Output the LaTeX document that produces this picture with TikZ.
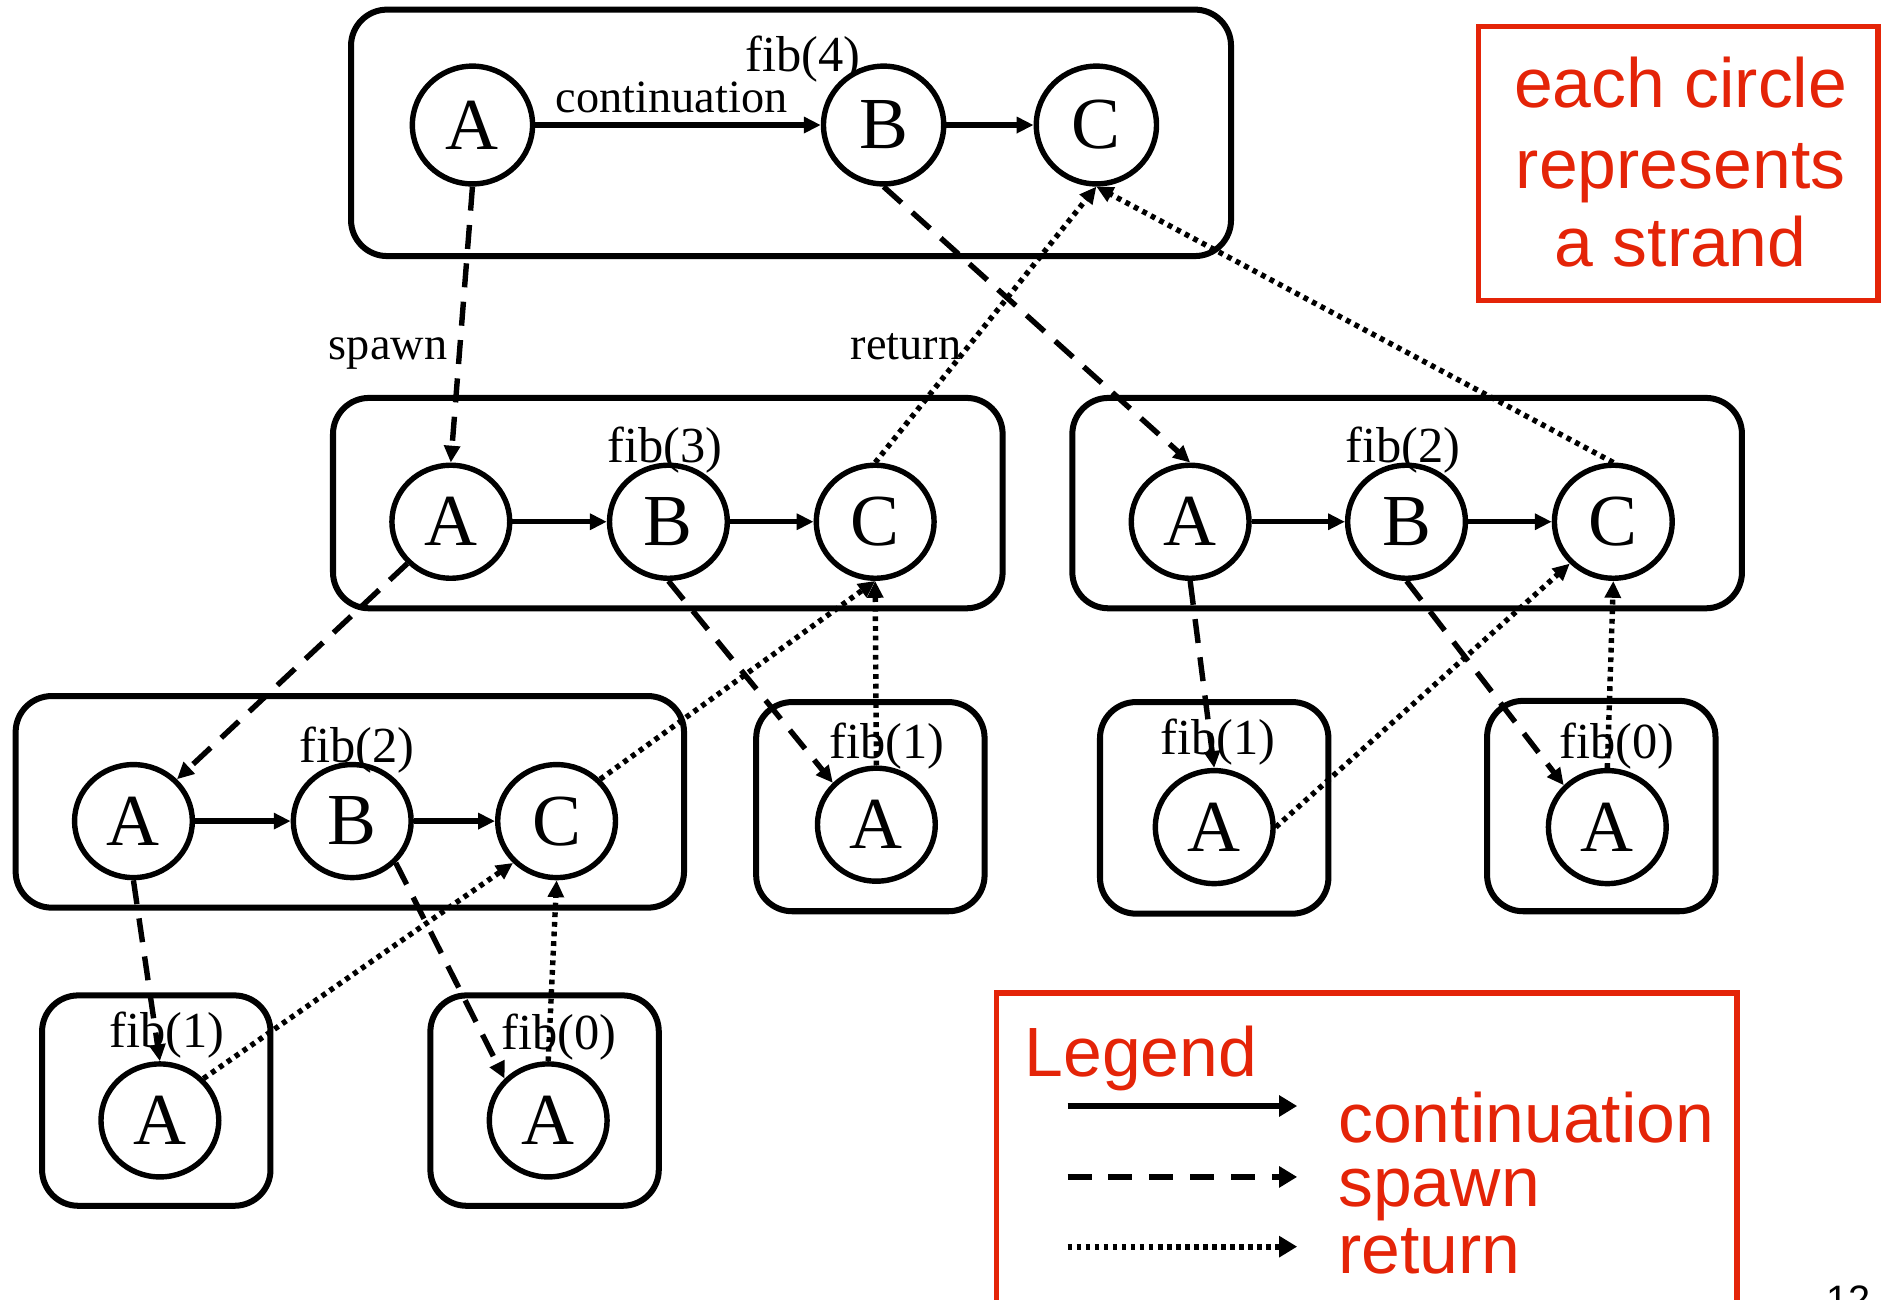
\documentclass[tikz,border=0pt]{standalone}
\usepackage{fontspec}
\setmainfont{Liberation Serif}
\newfontfamily\slidesans{Liberation Sans}
\usetikzlibrary{arrows.meta,shapes.geometric}
\definecolor{slidered}{RGB}{228,36,8}

\begin{document}
\begin{tikzpicture}[x=1pt,y=-1pt,
  strand/.style={ellipse,draw,line width=4.5pt,minimum width=98pt,minimum height=94pt,
    inner sep=0pt,font=\fontsize{61}{61}\selectfont},
  bigstrand/.style={strand,minimum width=100pt,minimum height=98pt},
  framebox/.style={draw,line width=5pt,rounded corners=30pt,inner sep=0pt},
  fiblabel/.style={anchor=base,inner sep=0pt,font=\fontsize{42}{42}\selectfont},
  edgelabel/.style={anchor=base,inner sep=0pt,font=\fontsize{38.5}{38.5}\selectfont},
  tip/.style={-{Triangle[length=14pt,width=13pt]}},
  cont/.style={tip,line width=4.5pt},
  spawnarr/.style={tip,line width=4.5pt,dash pattern=on 20pt off 12pt},
  retarr/.style={tip,line width=4.5pt,dash pattern=on 4pt off 4pt},
  bigtip/.style={-{Triangle[length=15pt,width=17pt]},line width=5pt},
  redtext/.style={text=slidered,inner sep=0pt,font=\slidesans\fontsize{58}{58}\selectfont}]

\clip (0,0) rectangle (1568,1081);
\useasboundingbox (0,0) rectangle (1568,1081);

% procedure frames
\node[framebox,minimum width=732pt,minimum height=205pt] (box4)  at (658,110.5) {};
\node[framebox,minimum width=557pt,minimum height=175pt] (box3)  at (555.5,418.5) {};
\node[framebox,minimum width=557pt,minimum height=175pt] (box2r) at (1170.5,418.5) {};
\node[framebox,minimum width=556pt,minimum height=176pt] (box2l) at (291,667) {};
\node[framebox,minimum width=190pt,minimum height=174pt] (box1m) at (724,671) {};
\node[framebox,minimum width=190pt,minimum height=176pt] (box1r) at (1010,672) {};
\node[framebox,minimum width=190pt,minimum height=175pt] (box0r) at (1332,670.5) {};
\node[framebox,minimum width=190pt,minimum height=175pt] (box1b) at (130,915.5) {};
\node[framebox,minimum width=190pt,minimum height=175pt] (box0b) at (453,915.5) {};

% frame titles
\node[fiblabel] (t4)  at (668,59.6) {fib(4)};
\node[fiblabel] (t3)  at (553,384.5) {fib(3)};
\node[fiblabel] (t2r) at (1167,384.5) {fib(2)};
\node[fiblabel] (t2l) at (297,634.5) {fib(2)};
\node[fiblabel] (t1m) at (738,631) {fib(1)};
\node[fiblabel] (t1r) at (1013,628) {fib(1)};
\node[fiblabel] (t0r) at (1345,631) {fib(0)};
\node[fiblabel] (t1b) at (139,871) {fib(1)};
\node[fiblabel] (t0b) at (465,873) {fib(0)};

% strands
\node[bigstrand] (A4) at (393,104) {A};
\node[bigstrand] (B4) at (735,104) {B};
\node[bigstrand] (C4) at (912,104) {C};

\node[strand] (A3) at (375,434) {A};
\node[strand] (B3) at (556,434) {B};
\node[strand] (C3) at (728,434) {C};

\node[strand] (A2r) at (990,434) {A};
\node[strand] (B2r) at (1170,434) {B};
\node[strand] (C2r) at (1342,434) {C};

\node[strand] (A2l) at (111,683) {A};
\node[strand] (B2l) at (293,683) {B};
\node[strand] (C2l) at (463,683) {C};

\node[strand] (A1m) at (729,686) {A};
\node[strand] (A1r) at (1010,688) {A};
\node[strand] (A0r) at (1337,688) {A};

\node[strand] (A1b) at (133,932) {A};
\node[strand] (A0b) at (456,932) {A};

% continuation edges
\draw[cont] (A4) -- (B4);
\draw[cont] (B4) -- (C4);
\draw[cont] (A3) -- (B3);
\draw[cont] (B3) -- (C3);
\draw[cont] (A2r) -- (B2r);
\draw[cont] (B2r) -- (C2r);
\draw[cont] (A2l) -- (B2l);
\draw[cont] (B2l) -- (C2l);

% spawn edges
\draw[spawnarr] (A4.south) -- (A3.north);
\draw[spawnarr] (B4.south) -- (A2r.north);
\draw[spawnarr] (A3.south west) -- (A2l.north east);
\draw[spawnarr] (B3.south) -- (A1m.north west);
\draw[spawnarr] (A2r.south) -- (A1r.north);
\draw[spawnarr] (B2r.south) -- (A0r.north west);
\draw[spawnarr] (A2l.south) -- (A1b.north);
\draw[spawnarr] (B2l.south east) -- (A0b.north west);

% return edges
\draw[retarr] (C3.north) -- (C4.south);
\draw[retarr] (C2r.north) -- (C4.south);
\draw[retarr] (C2l.north east) -- (C3.south);
\draw[retarr] (A1m.north) -- (C3.south);
\draw[retarr] (A1b.north east) -- (C2l.south west);
\draw[retarr] (A0b.north) -- (C2l.south);
\draw[retarr] (A1r.east) -- (C2r.south west);
\draw[retarr] (A0r.north) -- (C2r.south);

% edge kind labels
\node[edgelabel] (lcont)  at (558.7,93.4) {continuation};
\node[edgelabel] (lspawn) at (322.8,298.9) {spawn};
\node[edgelabel] (lret)   at (753.8,298.9) {return};

% note
\node[draw=slidered,line width=4.5pt,minimum width=332pt,minimum height=228pt,inner sep=0pt] (notebox) at (1396,136) {};
\node[redtext,anchor=base] (note1) at (1398,89.3) {each circle};
\node[redtext,anchor=base] (note2) at (1398,157) {represents};
\node[redtext,anchor=base] (note3) at (1398,222) {a strand};

% legend
\node[draw=slidered,line width=4.5pt,minimum width=616pt,minimum height=290pt,inner sep=0pt] (legendbox) at (1137,971) {};
\node[redtext,anchor=base west] (legendtitle) at (852,895.6) {Legend};
\coordinate (lc1) at (888,920);
\coordinate (lc2) at (1079,920);
\coordinate (ls1) at (888,979);
\coordinate (ls2) at (1079,979);
\coordinate (lr1) at (888,1037);
\coordinate (lr2) at (1079,1037);
\draw[bigtip] (lc1) -- (lc2);
\draw[bigtip,dash pattern=on 20pt off 14pt] (ls1) -- (ls2);
\draw[bigtip,dash pattern=on 4pt off 3.5pt] (lr1) -- (lr2);
\node[redtext,anchor=base west] (legcont)  at (1113,950.5) {continuation};
\node[redtext,anchor=base west] (legspawn) at (1113,1003.7) {spawn};
\node[redtext,anchor=base west] (legret)   at (1113,1059) {return};

% slide number, running off the lower edge of the slide
\node[anchor=north west,inner sep=0pt,font=\slidesans\fontsize{33}{33}\selectfont] (pagenum) at (1519,1069) {12};
\end{tikzpicture}
\end{document}
